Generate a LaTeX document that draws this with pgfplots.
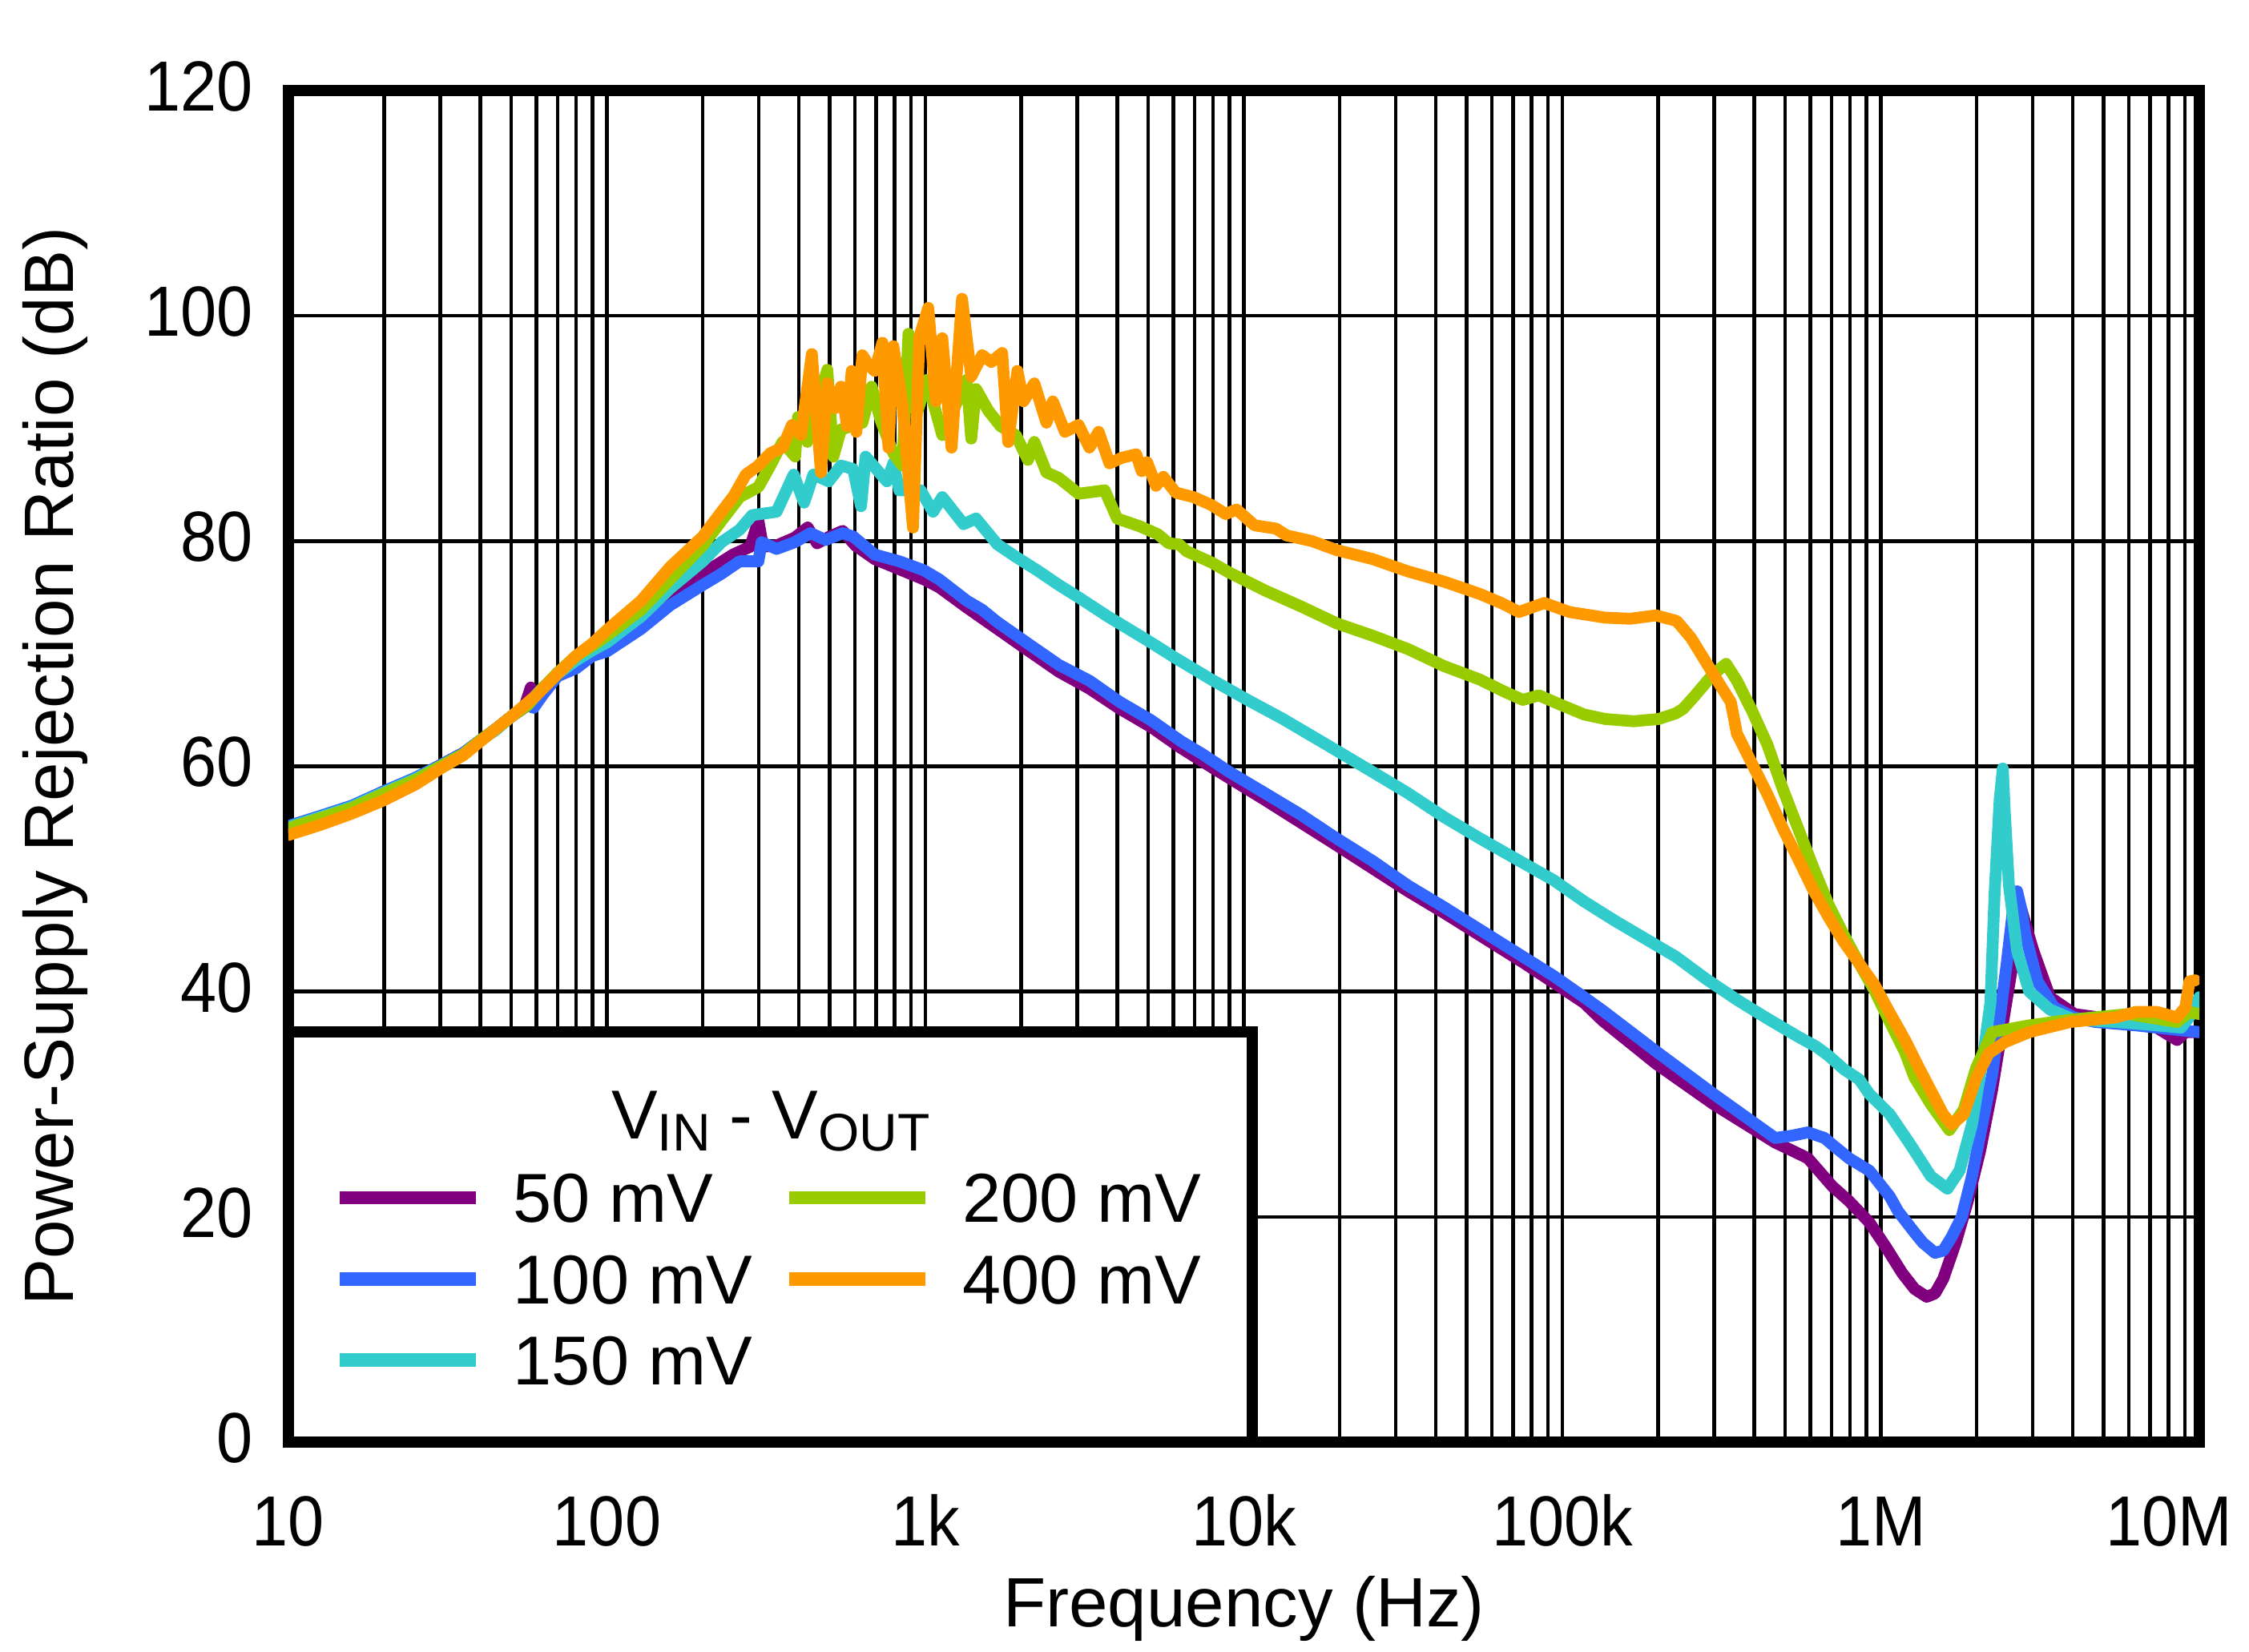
\documentclass[border=0pt]{standalone}
\usepackage{fontspec}
\setmainfont{Liberation Sans}
\newfontfamily\tickfont{Liberation Sans}[FakeStretch=0.915]
\usepackage{pgfplots}
\pgfplotsset{compat=1.18}
\definecolor{cfifty}{HTML}{800080}
\definecolor{chundred}{HTML}{3366FF}
\definecolor{conefifty}{HTML}{33CCCC}
\definecolor{ctwohundred}{HTML}{99CC00}
\definecolor{cfourhundred}{HTML}{FF9900}
\begin{document}
\begin{tikzpicture}
\useasboundingbox (-1.80cm,-1.31cm) rectangle (12.235cm,9.0cm);
\begin{axis}[
  at={(0,0)}, anchor=south west,
  scale only axis, width=11.925cm, height=8.435cm,
  xmode=log, xmin=10, xmax=1e7, ymin=0, ymax=120,
  xtick={10,100,1000,10000,100000,1000000,10000000},
  xticklabels={10,100,1k,10k,100k,1M,\hspace*{-0.38cm}10M},
  minor xtick={20,30,40,50,60,70,80,90,200,300,400,500,600,700,800,900,2000,3000,4000,5000,6000,7000,8000,9000,20000,30000,40000,50000,60000,70000,80000,90000,200000,300000,400000,500000,600000,700000,800000,900000,2000000,3000000,4000000,5000000,6000000,7000000,8000000,9000000},
  ytick={0,20,40,60,80,100,120},
  yticklabels={0,20,40,60,80,100,120},
  xmajorgrids=true, xminorgrids=true, ymajorgrids=true,
  major tick length=0pt, minor tick length=0pt,
  major grid style={black, line width=0.65pt},
  minor grid style={black, line width=0.65pt},
  axis line style={line width=2.1pt},
  every tick label/.append style={font=\tickfont\fontsize{12.6}{15}\selectfont},
  xticklabel style={anchor=base, inner sep=0pt, yshift=-0.647cm},
  yticklabel style={anchor=east, inner sep=0pt, xshift=-0.215cm, yshift=0.025cm},
  xlabel={Frequency (Hz)},
  ylabel={Power-Supply Rejection Ratio (dB)},
  label style={font=\fontsize{12.4}{15}\selectfont},
  xlabel style={at={(axis description cs:0.5,0)}, anchor=base, inner sep=0pt, yshift=-1.153cm},
  ylabel style={at={(axis description cs:-0.1125,0.5)}, anchor=base, inner sep=0pt},
  legend style={draw=none, fill=none, at={(0,0)}, anchor=south west,
    xshift=0.28cm, yshift=0.2595cm, inner sep=0pt, outer sep=0pt,
    legend columns=2, column sep=0.19cm, row sep=0pt,
    nodes={inner xsep=0pt, inner ysep=2.8pt, text height=8.8pt, text depth=0pt},
    font=\fontsize{12.3}{15}\selectfont},
  legend cell align=left,
  legend image code/.code={\draw[#1, line width=2.4pt, line cap=butt] (0cm,0cm) -- (0.85cm,0cm);},
  every axis plot/.append style={line width=2.1pt, line join=round, line cap=round},
]
% 50 mV
\addplot[color=cfifty, forget plot] coordinates {
(10,54.6)(12.6,55.5)(15.8,56.4)(20,57.8)(25.1,58.9)(30,60.1)(35.5,61.2)(40,62.3)(44.7,63.3)(50,64.4)(55,65.2)(57.7,67.0)(60,66.2)(63.1,66.8)(70,68.3)(79.4,69.3)(90,70.2)(100,70.5)(128,72.6)(158,75.0)(200,77.1)(249,78.8)(282,79.5)(299,81.8)(309,79.5)(341,79.6)(389,80.3)(427,81.2)(457,79.8)(501,80.4)(550,80.9)(603,79.6)(693,78.4)(828,77.5)(989,76.6)(1104,75.9)(1349,74.1)(1683,72.2)(2099,70.3)(2624,68.4)(3273,66.9)(4083,65.1)(5105,63.5)(6368,61.6)(7943,59.9)(11670,57.0)(19540,53.0)(32810,48.9)(42460,47.0)(75160,42.6)(117000,39.0)(134000,37.4)(196800,33.6)(298500,30.0)(465600,26.6)(524800,25.9)(590200,25.2)(704700,22.7)(794300,21.4)(920400,19.5)(1038000,17.3)(1167000,15.0)(1276000,13.6)(1393000,12.9)(1479000,13.2)(1570000,14.5)(1718000,17.7)(1875000,21.4)(2051000,25.9)(2239000,31.4)(2449000,38.2)(2600000,42.7)(2716000,46.4)(2761000,47.3)(2844000,46.0)(3013000,43.6)(3396000,39.5)(4055000,38.0)(5458000,37.5)(7345000,36.8)(8511000,35.7)(9036000,36.4)(10000000,36.4)
};
% 100 mV
\addplot[color=chundred, forget plot] coordinates {
(10,54.7)(12.6,55.6)(15.8,56.5)(20,57.8)(25.1,59.0)(30,60.1)(35.5,61.2)(40,62.3)(44.7,63.3)(50,64.4)(56.2,65.4)(58.9,65.2)(63.1,66.4)(70,68.0)(80,68.7)(90,69.8)(100,70.2)(128,72.2)(158,74.3)(200,76.1)(229,77.1)(261,78.2)(299,78.2)(306,79.9)(341,79.3)(389,79.9)(436,80.7)(486,80.1)(550,80.7)(593,80.4)(693,78.8)(828,78.2)(989,77.4)(1104,76.6)(1349,74.7)(1507,73.9)(1683,72.8)(2099,70.9)(2624,69.0)(3273,67.6)(4083,65.7)(5105,64.1)(6368,62.2)(7396,61.1)(9000,59.5)(11670,57.6)(15100,55.7)(19540,53.6)(25350,51.6)(32810,49.4)(42460,47.5)(75160,43.1)(93760,41.4)(117000,39.5)(134000,38.3)(196800,34.7)(298500,30.9)(465600,27.0)(524800,27.2)(590200,27.5)(665300,27.0)(704700,26.4)(794300,25.2)(920400,24.1)(1067000,21.8)(1132000,20.5)(1276000,18.6)(1355000,17.7)(1479000,16.8)(1570000,17.0)(1667000,18.2)(1795000,20.0)(1932000,23.6)(2080000,28.2)(2239000,32.7)(2377000,38.2)(2489000,42.7)(2600000,47.3)(2679000,48.9)(2761000,47.3)(2844000,45.0)(3105000,40.9)(3499000,38.6)(4055000,37.7)(4710000,37.3)(6324000,37.0)(8511000,36.6)(10000000,36.4)
};
% 150 mV
\addplot[color=conefifty, forget plot] coordinates {
(10,54.6)(12.6,55.5)(15.8,56.4)(20,57.7)(25.1,58.9)(30,60.0)(35.5,61.1)(40,62.3)(44.7,63.2)(50,64.4)(56.2,65.5)(63.1,67.0)(70,68.2)(80,69.4)(90,70.3)(100,71.0)(128,73.3)(158,75.8)(200,78.2)(229,79.9)(261,81.0)(286,82.3)(341,82.6)(386,85.9)(416,83.4)(445,85.9)(497,85.3)(543,86.7)(593,86.4)(628,83.1)(649,87.5)(757,85.3)(793,86.9)(828,84.5)(966,84.5)(1057,82.6)(1130,83.9)(1318,81.5)(1442,82.0)(1683,79.7)(1923,78.6)(2244,77.4)(2624,76.1)(3027,75.0)(3741,73.3)(4966,71.2)(6109,69.6)(7907,67.7)(10260,65.9)(13270,64.2)(19540,61.4)(25350,59.5)(32810,57.6)(42460,55.5)(55080,53.6)(71290,51.8)(93760,49.9)(117000,48.0)(145900,46.3)(182000,44.7)(227000,43.1)(283100,41.1)(356500,39.2)(440600,37.6)(549500,36.0)(628100,35.1)(685500,34.3)(765600,33.1)(855100,32.2)(920400,30.9)(1067000,29.1)(1239000,26.4)(1435000,23.6)(1618000,22.5)(1766000,24.1)(1932000,28.2)(2113000,35.0)(2208000,39.0)(2275000,48.6)(2360000,57.0)(2415000,59.8)(2449000,56.0)(2523000,49.5)(2679000,43.6)(2924000,40.0)(3396000,38.4)(4055000,37.5)(5458000,37.3)(7345000,37.0)(8770000,36.8)(9441000,38.0)(10000000,39.5)
};
% 200 mV
\addplot[color=ctwohundred, forget plot] coordinates {
(10,54.5)(12.6,55.4)(15.8,56.3)(20,57.6)(25.1,58.8)(30,60.0)(35.5,61.1)(40,62.3)(44.7,63.3)(50,64.4)(56.2,65.4)(63.1,67.0)(70,68.3)(80,69.8)(90,70.7)(100,71.6)(128,73.9)(158,76.6)(200,79.6)(229,81.8)(261,83.9)(299,84.8)(326,86.7)(356,88.8)(390,87.5)(398,91.0)(426,88.8)(492,95.2)(514,87.5)(543,89.9)(634,90.5)(678,93.7)(724,90.7)(793,87.8)(847,86.7)(885,98.4)(946,91.6)(1012,94.3)(1130,89.4)(1349,94.3)(1393,89.1)(1442,93.5)(1574,91.6)(1722,90.2)(1923,89.4)(2099,87.2)(2198,88.8)(2399,86.1)(2624,85.6)(3027,84.2)(3656,84.5)(4000,82.0)(4720,81.3)(4989,81.0)(5370,80.6)(5808,79.8)(6266,79.7)(6607,79.1)(7907,78.1)(8995,77.2)(11670,75.6)(15100,74.2)(19540,72.7)(25350,71.6)(32810,70.4)(42460,68.9)(55080,67.7)(66070,66.6)(75160,65.9)(84330,66.3)(100000,65.4)(117000,64.6)(136200,64.2)(167500,64.0)(200500,64.2)(227000,64.7)(239300,65.1)(259400,66.2)(295800,68.1)(326600,69.1)(353200,67.6)(394500,64.9)(440600,61.9)(492000,58.0)(549500,54.5)(613800,51.0)(685500,47.7)(765600,45.0)(855100,42.5)(955000,40.1)(1067000,37.3)(1191000,34.6)(1274000,32.4)(1435000,30.0)(1641000,27.7)(1820000,29.5)(1991000,33.2)(2239000,36.4)(2924000,37.0)(3936000,37.5)(5970000,38.0)(8511000,37.3)(9311000,38.2)(10000000,38.0)
};
% 400 mV
\addplot[color=cfourhundred, forget plot] coordinates {
(10,53.9)(12.6,54.8)(15.8,55.8)(20,57.0)(25.1,58.4)(30,59.8)(35.5,61.0)(40,62.2)(50,64.4)(60,66.3)(70,68.2)(80,69.8)(90,70.9)(100,72.1)(128,74.7)(158,77.7)(200,80.4)(229,82.6)(250,84.0)(273,85.9)(299,86.7)(326,87.8)(356,88.3)(381,90.3)(407,89.4)(440,96.6)(470,86.1)(492,94.0)(520,91.8)(543,93.7)(568,90.2)(587,95.1)(607,89.7)(634,96.5)(664,95.6)(693,95.1)(733,97.6)(766,88.3)(793,97.3)(847,92.1)(914,81.2)(957,98.1)(1021,100.7)(1079,92.4)(1130,98.0)(1208,88.3)(1303,101.5)(1393,94.6)(1507,96.5)(1611,95.9)(1742,96.7)(1820,88.8)(1945,95.1)(2032,92.4)(2198,94.0)(2399,90.5)(2512,92.4)(2742,89.7)(3027,90.3)(3273,88.3)(3499,89.7)(3784,86.9)(4145,87.4)(4592,87.7)(4775,86.2)(4966,87.0)(5297,84.9)(5585,85.7)(6109,84.3)(6950,83.9)(7907,83.2)(8770,82.4)(9484,82.8)(10790,81.4)(12620,81.1)(13610,80.5)(16330,80.0)(19540,79.2)(25350,78.4)(32810,77.3)(42460,76.4)(55080,75.3)(64270,74.5)(73110,73.7)(87700,74.5)(105200,73.7)(136200,73.2)(163300,73.1)(196800,73.4)(228600,72.9)(253500,71.4)(283100,69.2)(316200,67.0)(338000,65.7)(353200,62.9)(394500,60.2)(440600,57.5)(492000,54.5)(549500,51.8)(613800,49.0)(685500,46.6)(765600,44.4)(855100,42.5)(955000,40.6)(1067000,38.1)(1191000,35.7)(1330000,33.0)(1570000,29.1)(1667000,28.2)(1820000,29.1)(1991000,32.3)(2178000,34.5)(2449000,35.5)(2924000,36.4)(3936000,37.3)(5458000,37.7)(6324000,38.2)(7345000,38.2)(8511000,37.7)(9036000,38.6)(9311000,40.9)(9700000,41.0)
};
% legend box and title
\draw[line width=2.0pt, fill=white] (axis cs:10,0) rectangle (axis cs:10620,36.4);
\node[anchor=base, inner sep=0pt, font=\fontsize{12.3}{15}\selectfont] at (axis description cs:0.2524,0.2243)
  {V\raisebox{-2.1pt}{\fontsize{9.4}{11}\selectfont IN} - V\raisebox{-2.1pt}{\fontsize{9.4}{11}\selectfont OUT}};
\addlegendimage{color=cfifty}
\addlegendentry{50 mV}
\addlegendimage{color=ctwohundred}
\addlegendentry{200 mV}
\addlegendimage{color=chundred}
\addlegendentry{100 mV}
\addlegendimage{color=cfourhundred}
\addlegendentry{400 mV}
\addlegendimage{color=conefifty}
\addlegendentry{150 mV}
\end{axis}
\end{tikzpicture}
\end{document}
